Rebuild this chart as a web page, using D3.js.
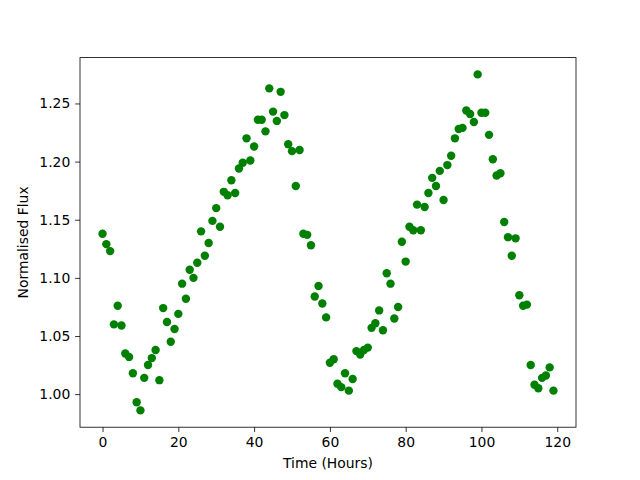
<!DOCTYPE html>
<html>
<head>
<meta charset="utf-8">
<script src="https://cdn.jsdelivr.net/npm/d3@7"></script>
<style>
  html, body { margin: 0; padding: 0; background: #fff; }
  svg { display: block; }
  .axis text { font-family: 'DejaVu Sans', sans-serif; font-size: 13.9px; fill: #000; }
  .axis path, .axis line { stroke: #000; stroke-width: 0.8; }
  .label { font-family: 'DejaVu Sans', sans-serif; font-size: 13.9px; fill: #000; }
</style>
</head>
<body>
<svg id="chart" width="640" height="480"></svg>
<script>
// observation times (hours)
const hours = [
  0, 1, 2, 3, 4, 5, 6, 7, 8, 9, 10, 11, 12, 13, 14, 15, 16, 17, 18, 19,
  20, 21, 22, 23, 24, 25, 26, 27, 28, 29, 30, 31, 32, 33, 34, 35, 36, 37, 38, 39,
  40, 41, 42, 43, 44, 45, 46, 47, 48, 49, 50, 51, 52, 53, 54, 55, 56, 57, 58, 59,
  60, 61, 62, 63, 64, 65, 66, 67, 68, 69, 70, 71, 72, 73, 74, 75, 76, 77, 78, 79,
  80, 81, 82, 83, 84, 85, 86, 87, 88, 89, 90, 91, 92, 93, 94, 95, 96, 97, 98, 99,
  100, 101, 102, 103, 104, 105, 106, 107, 108, 109, 110, 111, 112, 113, 114, 115, 116, 117, 118, 119
];

// normalised flux readings
const flux = [
  1.138, 1.129, 1.123, 1.060, 1.076, 1.059, 1.035, 1.032, 1.018, 0.993,
  0.986, 1.014, 1.025, 1.031, 1.038, 1.012, 1.074, 1.062, 1.045, 1.056,
  1.069, 1.095, 1.082, 1.107, 1.100, 1.113, 1.140, 1.119, 1.130, 1.149,
  1.160, 1.144, 1.174, 1.171, 1.184, 1.173, 1.194, 1.199, 1.220, 1.201,
  1.213, 1.236, 1.236, 1.226, 1.263, 1.243, 1.235, 1.260, 1.240, 1.215,
  1.209, 1.179, 1.210, 1.138, 1.137, 1.128, 1.084, 1.093, 1.078, 1.066,
  1.027, 1.030, 1.009, 1.006, 1.018, 1.003, 1.013, 1.037, 1.034, 1.038,
  1.040, 1.057, 1.061, 1.072, 1.055, 1.104, 1.095, 1.065, 1.075, 1.131,
  1.114, 1.144, 1.141, 1.163, 1.141, 1.161, 1.173, 1.186, 1.179, 1.192,
  1.167, 1.197, 1.205, 1.220, 1.228, 1.229, 1.244, 1.241, 1.234, 1.275,
  1.242, 1.242, 1.223, 1.202, 1.188, 1.190, 1.148, 1.135, 1.119, 1.134,
  1.085, 1.076, 1.077, 1.025, 1.008, 1.005, 1.014, 1.016, 1.023, 1.003
];

const xTicks = [0, 20, 40, 60, 80, 100, 120];
const yTicks = [1.00, 1.05, 1.10, 1.15, 1.20, 1.25];

function drawChart() {
  const margin = { top: 57.6, right: 64, bottom: 52.8, left: 80 };
  const W = 640 - margin.left - margin.right;
  const H = 480 - margin.top - margin.bottom;

  const svg = d3.select('#chart');
  svg.selectAll('*').remove();
  const g = svg.append('g').attr('transform', `translate(${margin.left},${margin.top})`);

  const data = hours.map((t, i) => ({ t, f: flux[i] }));

  // matplotlib-style 5% padding around the data extent
  const pad = ([a, b]) => [a - (b - a) * 0.05, b + (b - a) * 0.05];
  const x = d3.scaleLinear().domain(pad(d3.extent(hours))).range([0, W]);
  const y = d3.scaleLinear().domain(pad(d3.extent(flux))).range([H, 0]);

  g.selectAll('.dot')
    .data(data).enter().append('circle')
      .attr('class', 'dot')
      .attr('cx', d => x(d.t))
      .attr('cy', d => y(d.f))
      .attr('r', 4.2)
      .attr('fill', '#008000');

  const tick = 4.86;
  g.append('g').attr('class', 'axis')
    .attr('transform', `translate(0,${H})`)
    .call(d3.axisBottom(x).tickValues(xTicks).tickFormat(d3.format('d'))
      .tickSize(tick).tickSizeOuter(0).tickPadding(4.86))
    .call(a => a.select('.domain').remove());

  g.append('g').attr('class', 'axis')
    .call(d3.axisLeft(y).tickValues(yTicks).tickFormat(d3.format('.2f'))
      .tickSize(tick).tickSizeOuter(0).tickPadding(4.86))
    .call(a => a.select('.domain').remove());

  // frame
  g.append('rect')
    .attr('width', W).attr('height', H)
    .attr('fill', 'none').attr('stroke', '#000').attr('stroke-width', 0.8);

  g.append('text').attr('class', 'label')
    .attr('x', W / 2).attr('y', H + 41)
    .attr('text-anchor', 'middle')
    .text('Time (Hours)');

  g.append('text').attr('class', 'label')
    .attr('transform', `translate(${-52},${H / 2}) rotate(-90)`)
    .attr('text-anchor', 'middle')
    .text('Normalised Flux');
}

drawChart();
</script>
</body>
</html>
